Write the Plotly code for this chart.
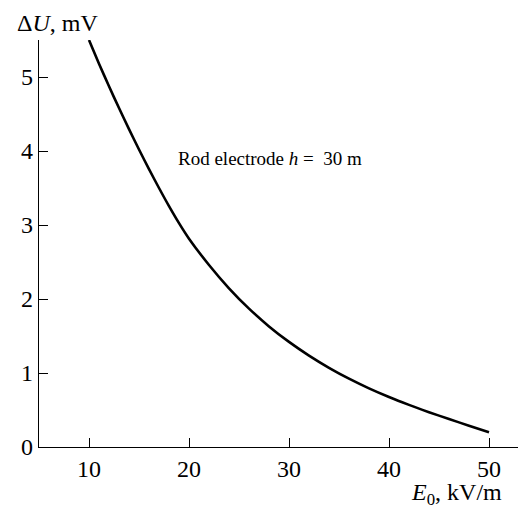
import plotly.graph_objects as go

# Data
E0 = [10, 11, 12, 13, 14, 15, 16, 17, 18, 19, 20, 22, 24, 26, 28, 30, 32, 34, 36, 38, 40, 42, 44, 46, 48, 50]
dU = [5.50, 5.18, 4.875, 4.58, 4.295, 4.02, 3.755, 3.50, 3.255, 3.025, 2.815, 2.46, 2.145, 1.87, 1.63, 1.42,
      1.235, 1.07, 0.923, 0.792, 0.675, 0.569, 0.471, 0.378, 0.288, 0.20]

x_ticks = [10, 20, 30, 40, 50]
y_ticks = [0, 1, 2, 3, 4, 5]

FONT = "Liberation Serif"

fig = go.Figure()
fig.add_trace(go.Scatter(x=E0, y=dU, mode="lines",
                         line=dict(color="black", width=2.6, shape="spline", smoothing=0.8),
                         showlegend=False, hoverinfo="skip"))

fig.update_layout(
    width=518, height=508,
    margin=dict(l=39, r=0, t=40, b=61),
    paper_bgcolor="white", plot_bgcolor="white",
    font=dict(family=FONT, size=24, color="black"),
    xaxis=dict(range=[5, 52.9], tickvals=x_ticks, ticks="inside", ticklen=9, tickwidth=1.3,
               tickcolor="black", showline=True, linecolor="black", linewidth=1.3,
               showgrid=False, zeroline=False, tickfont=dict(family=FONT, size=24)),
    yaxis=dict(range=[0, 5.5], tickvals=y_ticks, ticks="inside", ticklen=9, tickwidth=1.3,
               tickcolor="black", showline=True, linecolor="black", linewidth=1.3,
               showgrid=False, zeroline=False, tickfont=dict(family=FONT, size=24)),
    annotations=[
        dict(text="Δ<i>U</i>, mV", xref="paper", yref="paper", x=-0.05, y=1.0,
             xanchor="left", yanchor="bottom", yshift=2, showarrow=False,
             font=dict(family=FONT, size=24)),
        dict(text="<i>E</i><sub>0</sub>, kV/m", xref="paper", yref="paper", x=1.0, y=0,
             xanchor="right", yanchor="top", xshift=-14, yshift=-30, showarrow=False,
             font=dict(family=FONT, size=24)),
        dict(text="Rod electrode <i>h</i> =  30 m", xref="x", yref="y", x=18.7, y=3.9,
             xanchor="left", yanchor="middle", showarrow=False,
             font=dict(family=FONT, size=19)),
    ],
)

fig.write_html("out.html")
